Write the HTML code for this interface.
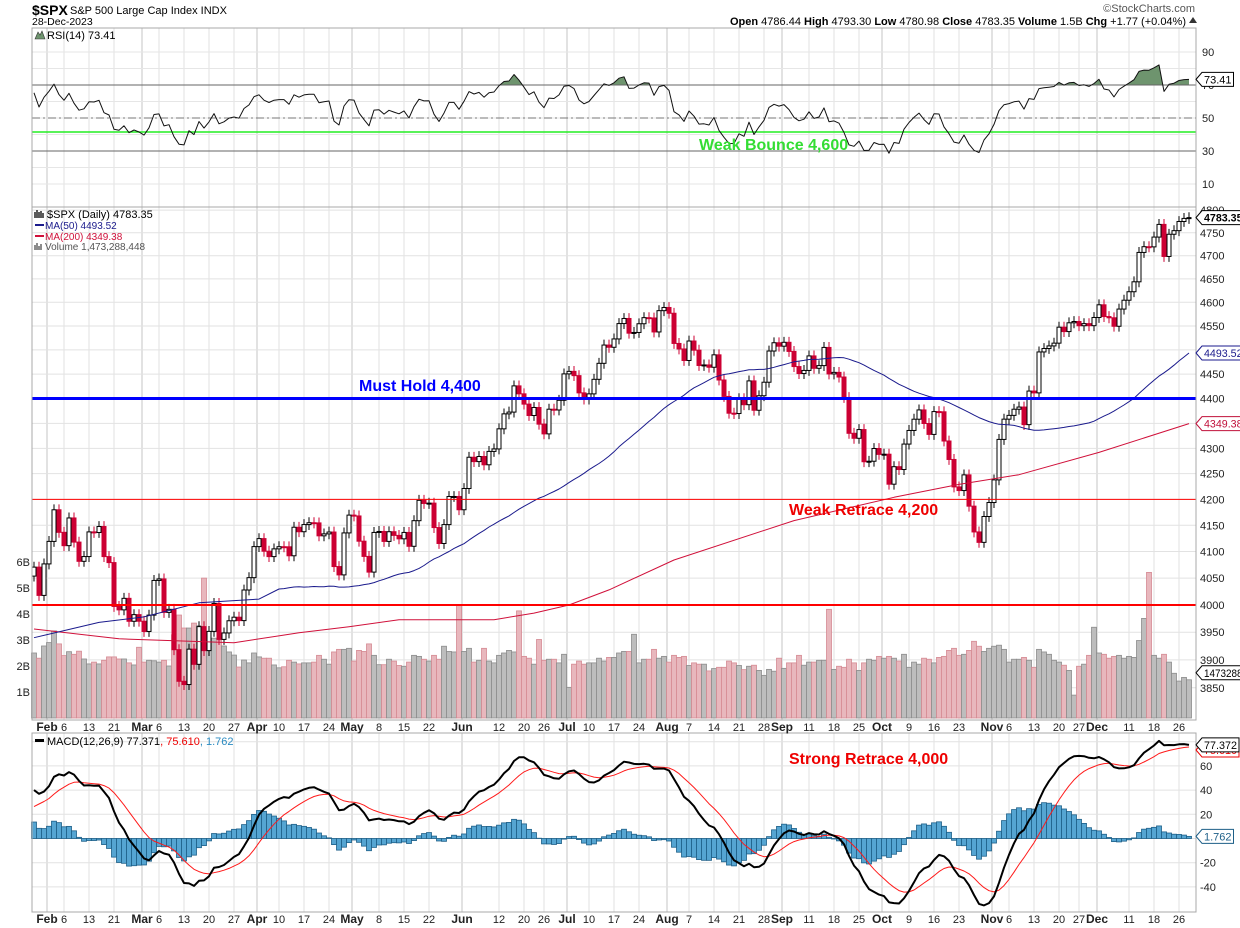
<!DOCTYPE html>
<html><head><meta charset="utf-8"><title>$SPX Daily</title>
<style>
html,body{margin:0;padding:0;background:#fff;}
svg{display:block;font-family:"Liberation Sans",Arial,sans-serif;}
</style></head>
<body>
<svg id="chart" width="1240" height="928" viewBox="0 0 1240 928" xmlns="http://www.w3.org/2000/svg">
<g id="header">
 <text x="32" y="15" font-size="14" font-weight="bold" fill="#000">$SPX</text>
 <text x="70" y="14" font-size="11" fill="#000">S&amp;P 500 Large Cap Index  INDX</text>
 <text x="32" y="25" font-size="10.5" fill="#000">28-Dec-2023</text>
 <text x="1195" y="12" font-size="11" fill="#555" text-anchor="end">©StockCharts.com</text>
 <text x="1186" y="25" font-size="11" fill="#000" text-anchor="end"><tspan font-weight="bold">Open</tspan> 4786.44 <tspan font-weight="bold">High</tspan> 4793.30 <tspan font-weight="bold">Low</tspan> 4780.98 <tspan font-weight="bold">Close</tspan> 4783.35 <tspan font-weight="bold">Volume</tspan> 1.5B <tspan font-weight="bold">Chg</tspan> +1.77 (+0.04%)</text>
 <path d="M1189 23 L1197 23 L1193 17 Z" fill="#333"/>
</g>
<g id="layer"></g>
</svg>
<script>
// ---- data ----
const closes = [4070.56,4017.77,4076.60,4119.21,4179.76,4136.48,4111.08,4164.00,4117.86,4081.50,4090.46,4137.29,4136.13,4147.60,4090.41,4079.09,3997.34,3991.05,4012.32,3970.04,3982.24,3970.15,
3951.39,3981.35,4045.64,4048.42,3986.37,3992.01,3918.32,3861.59,3855.76,3919.29,3891.93,3960.28,3916.64,3951.57,4002.87,3936.97,3948.72,3970.99,3977.53,3971.27,4027.81,4050.83,4109.31,
4124.51,4100.60,4090.38,4105.02,4109.11,4108.94,4091.95,4146.22,4137.64,4151.32,4154.87,4154.52,4129.79,4133.52,4137.04,4071.63,4055.99,4135.35,4169.48,
4167.87,4119.58,4090.75,4061.22,4136.25,4138.12,4119.17,4137.64,4130.62,4124.08,4136.28,4109.90,4158.77,4198.05,4191.98,4192.63,4145.58,4115.24,4151.28,4205.45,4205.52,4179.83,
4221.02,4282.37,4273.79,4283.85,4267.52,4293.93,4298.86,4338.93,4369.01,4372.59,4425.84,4409.59,4388.71,4365.69,4381.89,4348.33,4328.82,4378.41,4376.86,4396.44,4450.38,
4455.59,4446.82,4411.59,4398.95,4409.53,4439.26,4472.16,4510.04,4505.42,4522.79,4554.98,4565.72,4534.87,4536.34,4554.64,4567.46,4566.75,4537.41,4582.23,4588.96,
4576.73,4513.39,4501.89,4478.03,4518.44,4499.38,4467.71,4468.83,4464.05,4489.72,4437.86,4404.33,4370.36,4369.71,4399.77,4387.55,4436.01,4376.31,4405.71,4433.31,4497.63,4514.87,4507.66,
4515.77,4496.83,4465.48,4451.14,4457.49,4487.46,4461.90,4467.44,4505.10,4450.32,4453.53,4443.95,4402.20,4330.00,4320.06,4337.44,4273.53,4274.51,4299.70,4288.05,
4288.39,4229.45,4263.75,4258.19,4308.50,4335.66,4358.24,4376.95,4349.61,4327.78,4373.63,4373.20,4314.60,4278.00,4224.16,4217.04,4247.68,4186.77,4137.23,4117.37,4166.82,4193.80,
4237.86,4317.78,4358.34,4365.98,4378.38,4382.78,4347.35,4415.24,4411.55,4495.70,4502.88,4508.24,4514.02,4547.38,4538.19,4556.62,4559.34,4550.43,4554.89,4550.58,4567.80,
4594.63,4569.78,4567.18,4549.34,4585.59,4604.37,4622.44,4643.70,4707.09,4719.55,4719.19,4740.56,4768.37,4698.35,4746.75,4754.63,4774.75,4781.58,4783.35];
const firstOpen = 4053.72;
const volumes = [2.5,2.3,2.77,2.9,3.35,2.85,2.4,2.55,2.45,2.57,2.27,2.08,2.15,2.08,2.22,2.35,2.35,2.27,2.27,2.12,
2.04,2.72,2.15,2.22,2.2,2.15,2.22,2.0,3.2,3.96,3.46,3.46,3.65,3.55,5.38,2.85,3.07,3.0,2.77,2.54,
2.42,1.96,2.23,2.12,2.5,2.35,2.3,2.3,2.04,1.93,1.97,2.22,2.15,2.08,
2.12,2.12,2.15,2.41,2.26,2.07,2.54,2.64,2.64,2.68,2.19,2.6,2.56,2.85,2.41,2.05,2.05,2.26,2.19,2.02,
1.99,2.15,2.41,2.37,2.26,2.19,2.41,2.26,2.76,2.56,2.54,4.35,2.56,2.68,2.15,2.22,2.68,2.19,2.12,2.41,
2.5,2.6,2.54,4.12,2.37,2.3,2.07,3.02,2.22,2.26,2.26,2.12,2.45,1.18,2.07,2.19,2.07,2.12,2.12,2.3,
2.19,2.33,2.33,2.5,2.56,2.56,3.22,2.12,2.26,2.26,2.64,2.3,2.37,2.15,2.41,2.33,2.37,2.02,2.12,2.07,
2.07,1.81,1.9,1.95,1.95,2.19,2.12,2.02,1.86,1.99,
2.03,1.83,1.64,1.87,1.8,2.3,1.91,2.12,2.12,2.41,2.03,2.15,2.15,2.22,2.22,4.18,1.87,1.99,1.95,2.26,
2.12,1.83,2.12,2.26,2.22,2.37,2.3,2.37,2.3,2.19,2.45,1.95,2.15,2.07,2.3,2.26,2.12,2.33,2.37,2.6,
2.68,2.41,2.45,2.6,2.95,2.76,2.56,2.68,2.76,2.8,2.64,2.15,2.26,2.26,2.33,2.22,1.95,2.64,2.54,2.45,
2.22,2.15,2.03,1.83,0.88,1.99,2.07,2.41,3.49,2.5,2.45,2.3,2.37,2.41,2.3,2.37,2.33,2.98,3.83,5.6,
2.41,2.3,2.45,2.15,1.72,1.42,1.56,1.47];
const ma200Idx = [0,17,40,53,63,73,92,100,107,115,128,152,172,185,197,213,231];
const ma200Val = [3956,3938,3931,3949,3960,3973,3973,3985,4000,4028,4084,4159,4204,4229,4248,4292,4349.38];
const ma50EarlyIdx = [0,13,22,33,45];
const ma50EarlyVal = [3940,3968,3978,4004,4011];
const rsiSeed = [4060.43,18,10];
const macdSeed = [4010,3972,23];
const monthIdx = [3,22,45,64,86,107,127,150,170,192,213];
const monthLabels = ["Feb","Mar","Apr","May","Jun","Jul","Aug","Sep","Oct","Nov","Dec"];
const weekIdx = [6,11,16,25,30,35,40,49,54,59,69,74,79,93,98,102,111,116,121,131,136,141,146,155,160,165,175,180,185,195,200,205,209,219,224,229];
const weekLabels = ["6","13","21","6","13","20","27","10","17","24","8","15","22","12","20","26","10","17","24","7","14","21","28","11","18","25","9","16","23","6","13","20","27","11","18","26"];
const priceTicks = [4800,4750,4700,4650,4600,4550,4450,4400,4300,4250,4200,4150,4100,4050,4000,3950,3900,3850];
const volTicks = [1,2,3,4,5,6];
const rsiTicks = [90,70,50,30,10];
const macdTicks = [60,40,20,-20,-40];

// ---- scales ----
const xOf = i => 34 + 5*i;
const yP = p => 605 - 2166*Math.log(p/4000);
const yV = v => 718 - 26*v;
const yR = r => 118 - (r-50)*1.65;
const yM = m => 838.5 - 1.21*m;
const L = 32, R = 1196;
const NS = "http://www.w3.org/2000/svg";
const layer = document.getElementById("layer");
function mk(tag, attrs, parent){
  const e = document.createElementNS(NS, tag);
  for (const k in attrs) e.setAttribute(k, attrs[k]);
  (parent||layer).appendChild(e);
  return e;
}
function txt(x,y,s,attrs,parent){
  const t = mk("text", Object.assign({x:x,y:y}, attrs), parent);
  t.textContent = s;
  return t;
}
const N = closes.length;
const opens = closes.map((c,i)=> i===0 ? firstOpen : closes[i-1]);

// ---- indicators ----
const rsi = [];
{ let prev = rsiSeed[0], ag = rsiSeed[1], al = rsiSeed[2];
  for (let i=0;i<N;i++){ const d = closes[i]-prev; ag=(ag*13+Math.max(d,0))/14; al=(al*13+Math.max(-d,0))/14; rsi.push(100-100/(1+ag/al)); prev=closes[i]; } }
const macd=[], sig=[], hist=[];
{ let e12=macdSeed[0], e26=macdSeed[1], s=macdSeed[2];
  for (let i=0;i<N;i++){ e12+= (closes[i]-e12)*2/13; e26+=(closes[i]-e26)*2/27; const m=e12-e26; s+=(m-s)*0.2; macd.push(m); sig.push(s); hist.push(m-s);} }
const ma50pts = ma50EarlyIdx.map((ix,k)=>[xOf(ix), yP(ma50EarlyVal[k])]);
for (let i=49;i<N;i++){ let s=0; for(let j=i-49;j<=i;j++) s+=closes[j]; ma50pts.push([xOf(i), yP(s/50)]); }

// ---- panels & grid ----
const panels = [["rsi-panel",28,207],["price-panel",207,720],["macd-panel",733,912]];
const gridG = mk("g",{});


panels.forEach(p=>{
  for (let k=0;k<weekIdx.length;k++){
    const gl = mk("line",{x1:xOf(weekIdx[k]),x2:xOf(weekIdx[k]),y1:p[1],y2:p[2],stroke:"#e2e2e2","stroke-width":1},gridG);
    
    
  }
  for (let k=0;k<monthIdx.length;k++){
    const gl = mk("line",{x1:xOf(monthIdx[k])-2,x2:xOf(monthIdx[k])-2,y1:p[1],y2:p[2],stroke:"#c4c4c4","stroke-width":1},gridG);
    
    
  }
});
for (let p=3850;p<=4800;p+=50){ const g=mk("line",{x1:L,x2:R,y1:yP(p),y2:yP(p),stroke:"#e2e2e2"},gridG);
  
   }
for (let r=10;r<=90;r+=10){ const g=mk("line",{x1:L,x2:R,y1:yR(r),y2:yR(r),stroke:"#e6e6e6"},gridG);
  
   }
for (let m=-60;m<=80;m+=20){ const y=yM(m); if(y<735||y>911) continue; const g=mk("line",{x1:L,x2:R,y1:y,y2:y,stroke:"#e2e2e2"},gridG);
  
   }

// ---- volume ----
const volG = mk("g",{});


for (let i=0;i<N;i++){
  const down = i>0 && closes[i]<closes[i-1];
  const b = mk("rect",{x:xOf(i)-2.5,y:yV(volumes[i]),width:5,height:718-yV(volumes[i]),fill:down?"#e8b7bd":"#bdbdbd",stroke:down?"#d58a93":"#8c8c8c","stroke-width":0.8},volG);
  
  
}

// ---- candles ----
const cG = mk("g",{});


for (let i=0;i<N;i++){
  const o=opens[i], c=closes[i], up=c>=o;
  const hi=Math.max(o,c)*1.0025, lo=Math.min(o,c)*0.9975;
  const col = up ? "#000" : "#cc0033";
  const x=xOf(i);
  const w = mk("line",{x1:x,x2:x,y1:yP(hi),y2:yP(lo),stroke:col,"stroke-width":1},cG);
  
  
  const yt=yP(Math.max(o,c)), yb=yP(Math.min(o,c));
  const body = mk("rect",{x:x-2,y:yt,width:4,height:Math.max(1,yb-yt),fill:up?"#fff":"#cc0033",stroke:col,"stroke-width":1},cG);
  
  
}

// ---- moving averages ----
function poly(pts,stroke,w,name,parent){
  const e = mk("polyline",{points:pts.map(p=>p[0].toFixed(1)+","+p[1].toFixed(1)).join(" "),fill:"none",stroke:stroke,"stroke-width":w,"stroke-linejoin":"round"},parent);
  return e;
}
const ma200Line = poly(ma200Idx.map((ix,k)=>[xOf(ix),yP(ma200Val[k])]),"#d0103a",1);


const ma50Line = poly(ma50pts,"#1a1a8c",1);



// ---- annotation lines ----
const l4400 = mk("line",{x1:L,x2:R,y1:yP(4400),y2:yP(4400),stroke:"#0000ff","stroke-width":3});


const l4200 = mk("line",{x1:L,x2:R,y1:yP(4200),y2:yP(4200),stroke:"#ff0000","stroke-width":1});


const l4000 = mk("line",{x1:L,x2:R,y1:yP(4000),y2:yP(4000),stroke:"#ff0000","stroke-width":2});



// ---- RSI ----
const rsiG = mk("g",{});


const cp = mk("clipPath",{id:"above70"},rsiG);
mk("rect",{x:L,y:28,width:R-L,height:yR(70)-28},cp);
const rsiPts = rsi.map((r,i)=>[xOf(i),yR(r)]);
const fillPts = [[xOf(0),yR(70)]].concat(rsiPts,[[xOf(N-1),yR(70)]]);
const rf = mk("polygon",{points:fillPts.map(p=>p[0].toFixed(1)+","+p[1].toFixed(1)).join(" "),fill:"#6e946e","clip-path":"url(#above70)"},rsiG);


const r70 = mk("line",{x1:L,x2:R,y1:yR(70),y2:yR(70),stroke:"#666"},rsiG);


const r30 = mk("line",{x1:L,x2:R,y1:yR(30),y2:yR(30),stroke:"#666"},rsiG);


const r50 = mk("line",{x1:L,x2:R,y1:yR(50),y2:yR(50),stroke:"#777","stroke-dasharray":"8,3,2,3"},rsiG);


const rg = mk("line",{x1:L,x2:R,y1:132,y2:132,stroke:"#22ee22","stroke-width":1.5},rsiG);


const rl = poly(rsiPts,"#111",1,"",rsiG);



// ---- MACD ----
const mG = mk("g",{});


for (let i=0;i<N;i++){
  const y0=yM(0), y1=yM(hist[i]);
  const hb = mk("rect",{x:xOf(i)-2.5,y:Math.min(y0,y1),width:5,height:Math.abs(y1-y0),fill:"#55a5d2",stroke:"#1d5f88","stroke-width":0.8},mG);
  
  
}
const sl = poly(sig.map((v,i)=>[xOf(i),yM(v)]),"#ff1a1a",1,"",mG);


const ml = poly(macd.map((v,i)=>[xOf(i),yM(v)]),"#000",2,"",mG);



// ---- panel borders ----
panels.forEach(p=>{
  const b = mk("rect",{x:L,y:p[1],width:R-L,height:p[2]-p[1],fill:"none",stroke:"#a8a8a8","stroke-width":1});
  
  
});

// ---- axis labels ----
const axG = mk("g",{"font-size":11,fill:"#222"});


priceTicks.forEach(p=>{ const t=txt(1200,yP(p)+4,String(p),{},axG);
  
   });
rsiTicks.forEach(r=>{ const t=txt(1202,yR(r)+4,String(r),{},axG);
  
   });
macdTicks.forEach(m=>{ const t=txt(1200,yM(m)+4,String(m),{},axG);
  
   });
volTicks.forEach(v=>{ const t=txt(30,yV(v)+4,v+"B",{"text-anchor":"end"},axG);
  
   });
[731,923].forEach(yy=>{
  monthIdx.forEach((ix,k)=>{ const t=txt(xOf(ix)-2,yy,monthLabels[k],{"text-anchor":"middle","font-weight":"bold","font-size":12},axG);
    
     });
  weekIdx.forEach((ix,k)=>{ const t=txt(xOf(ix),yy,weekLabels[k],{"text-anchor":"middle"},axG);
    
     });
});

// ---- value tags on right axis ----
function tag(y,label,col,bold,name){
  const g = mk("g",{});
  
  
  const w = label.length*5.5+4;
  mk("path",{d:`M1196 ${y} L1202 ${y-7} L${1202+w} ${y-7} L${1202+w} ${y+7} L1202 ${y+7} Z`,fill:"#fff",stroke:col,"stroke-width":1},g);
  txt(1204,y+4,label,{"font-size":11,fill:col,"font-weight":bold?"bold":"normal",textLength:w-4,lengthAdjust:"spacingAndGlyphs"},g);
}
tag(yR(rsi[N-1]),rsi[N-1].toFixed(2),"#000",false,"rsi-value-tag");
tag(yP(closes[N-1]),closes[N-1].toFixed(2),"#000",true,"price-value-tag");
tag(ma50pts[ma50pts.length-1][1],"4493.52","#1a1a8c",false,"ma50-value-tag");
tag(yP(ma200Val[ma200Val.length-1]),"4349.38","#c0103a",false,"ma200-value-tag");
tag(yV(volumes[N-1])-7,"1473288","#000",false,"volume-value-tag");
tag(yM(sig[N-1])+3,sig[N-1].toFixed(3),"#e00",false,"signal-value-tag");
tag(yM(macd[N-1]),macd[N-1].toFixed(3),"#000",false,"macd-value-tag");
tag(yM(hist[N-1]),hist[N-1].toFixed(3),"#1d5f88",false,"histogram-value-tag");

// ---- legends ----
const lg = mk("g",{"font-size":10.5});


mk("path",{d:"M35 39 L38 32 L40 35 L42 31 L45 39 Z",fill:"#6e946e",stroke:"#333","stroke-width":0.6},lg);
let t;
t=txt(47,39,"RSI(14) 73.41",{fill:"#000","font-size":11},lg);


mk("path",{d:"M35 212 v6 M37 210 v8 M39 212 v6 M41 211 v7 M43 213 v5",stroke:"#000","stroke-width":1.3},lg);
t=txt(47,218,"$SPX (Daily) 4783.35",{fill:"#000","font-size":11},lg);


mk("rect",{x:35,y:224,width:9,height:2,fill:"#1a1a8c"},lg);
t=txt(45,229,"MA(50) 4493.52",{fill:"#1a1a8c","font-size":10},lg);


mk("rect",{x:35,y:235,width:9,height:2,fill:"#d0103a"},lg);
t=txt(45,240,"MA(200) 4349.38",{fill:"#d0103a","font-size":10},lg);


mk("path",{d:"M35 250 v-5 M37 250 v-7 M39 250 v-4 M41 250 v-6",stroke:"#666","stroke-width":1.5},lg);
t=txt(45,250,"Volume 1,473,288,448",{fill:"#555","font-size":10},lg);


mk("rect",{x:35,y:739,width:9,height:3,fill:"#000"},lg);
t=txt(47,745,"",{fill:"#000","font-size":11},lg);
t.innerHTML='MACD(12,26,9) 77.371<tspan fill="#e00">, 75.610</tspan><tspan fill="#2a8ac0">, 1.762</tspan>';



// ---- annotations ----
const an = mk("g",{"font-size":16,"font-weight":"bold"});


t=txt(699,150,"Weak Bounce 4,600",{fill:"#33dd33"},an);


t=txt(359,391,"Must Hold 4,400",{fill:"#0000ff"},an);


t=txt(789,515,"Weak Retrace 4,200",{fill:"#ee0000"},an);


t=txt(789,764,"Strong Retrace 4,000",{fill:"#ee0000"},an);


</script>
</body></html>
